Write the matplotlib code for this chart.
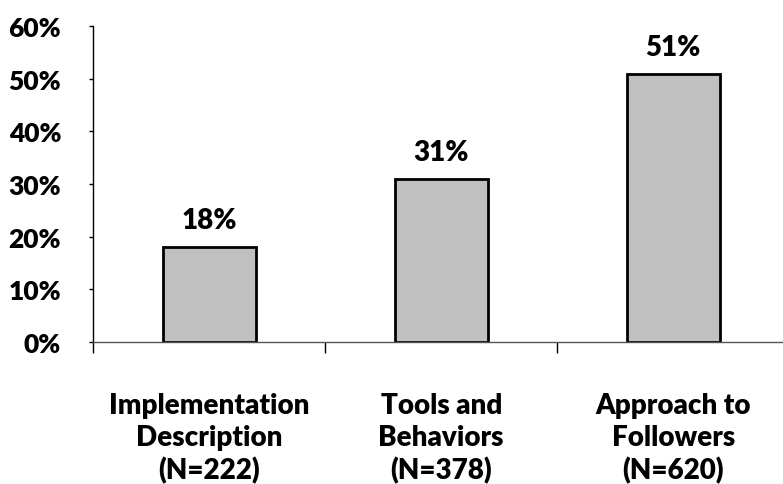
import matplotlib.pyplot as plt
import numpy as np

# data
categories = ['Implementation\nDescription\n(N=222)',
              'Tools and\nBehaviors\n(N=378)',
              'Approach to\nFollowers\n(N=620)']
values = [18, 31, 51]
yticks = [0, 10, 20, 30, 40, 50, 60]

plt.rcParams['font.family'] = ['Lato', 'DejaVu Sans']

fig = plt.figure(figsize=(7.83, 4.85), dpi=100)
ax = fig.add_axes([0.119, 0.293, 0.889, 0.651])

x = np.arange(len(values))
bars = ax.bar(x, values, width=0.4, color='#c0c0c0', edgecolor='black', linewidth=2)

# value labels above bars
for xi, v in zip(x, values):
    ax.annotate(f'{v}%', (xi, v), xytext=(0, 10), textcoords='offset points',
                ha='center', va='bottom', fontsize=20, fontweight='heavy')

ax.set_xlim(-0.5, 2.5)
ax.set_ylim(0, 60)
ax.set_yticks(yticks)
ax.set_yticklabels([f'{t}%' for t in yticks], fontsize=19, fontweight='heavy')

ax.set_xticks(x)
ax.set_xticklabels(categories, fontsize=20, fontweight='heavy', linespacing=1.27)
ax.set_xticks([-0.5, 0.5, 1.5, 2.5], minor=True)
ax.tick_params(axis='x', which='major', length=0, pad=36)
ax.tick_params(axis='x', which='minor', length=8, width=1)
ax.tick_params(axis='y', length=3, width=1, pad=20)

for s in ['top', 'right']:
    ax.spines[s].set_visible(False)
ax.spines['left'].set_linewidth(1)
ax.spines['bottom'].set_linewidth(1)
ax.spines['bottom'].set_color('#555555')

fig.savefig('out.png', dpi=100)
